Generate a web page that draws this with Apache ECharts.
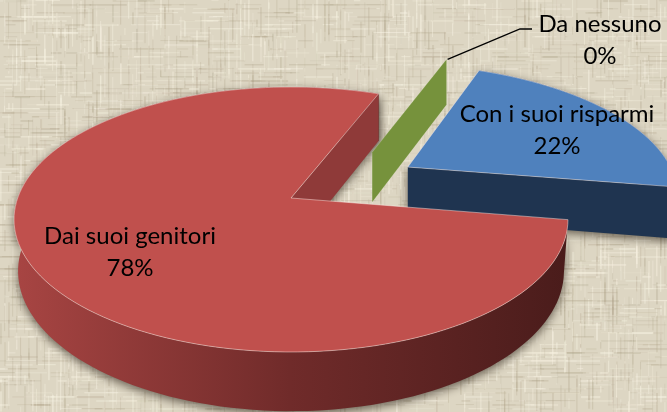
<!DOCTYPE html>
<html><head><meta charset="utf-8">
<style>html,body{margin:0;padding:0;background:#ddd6c3}#c{width:667px;height:412px}</style>
<script src="https://cdn.jsdelivr.net/npm/echarts@6/dist/echarts.min.js"></script>
</head><body><div id="c"></div>
<script>
// ---- chart data ----
const categories = ['Con i suoi risparmi', 'Dai suoi genitori', 'Da nessuno'];
const values = [21.5, 78.4, 0.1];
const percentLabels = ['22%', '78%', '0%'];

// ---- styling / projection ----
const topColors  = ['#4f81bd', '#c0504d', '#76923c'];
const cutColors  = ['#1f3450', '#8f3a39', '#76923c'];
const START = -68;
const explodeDist = [0.51, 0, 0.49];
const explodeDirs = [null, null, -50];   // null: along the slice bisector
const labelPos = [[557,130],[130,252],[600,40]];
const OX = 291, TY = 198, BY = 250, RX = 273.3, ST = 129, SB = 135, K = 0.1623;

function project(u, v, bottom) {
  const w = 1 - K * v;
  const rx = bottom ? RX * (1 - 0.01 * (v + 1.3)) : RX;
  return [OX + rx * u / w, (bottom ? BY : TY) + (bottom ? SB : ST) * v / w];
}
const total = values.reduce((a, b) => a + b, 0);
function sliceGeom(i) {
  // slices run clockwise on screen from START; the last ends back at START
  let a0 = START;
  for (let j = 0; j < i; j++) a0 += values[j] / total * 360;
  const a1 = a0 + values[i] / total * 360;
  const mid = (a0 + a1) / 2;
  const d = (explodeDirs[i] === null ? mid : explodeDirs[i]) * Math.PI / 180;
  return { a0, a1, du: explodeDist[i] * Math.cos(d), dv: explodeDist[i] * Math.sin(d) };
}
function rim(g, from, to, bottom) {
  const pts = [], n = Math.max(4, Math.ceil(Math.abs(to - from) / 2));
  for (let t = 0; t <= n; t++) {
    const a = (from + (to - from) * t / n) * Math.PI / 180;
    pts.push(project(g.du + Math.cos(a), g.dv + Math.sin(a), bottom));
  }
  return pts;
}
const wallGrad = [
  '#1f3450',
  { type:'linear', global:true, x:13, y:0, x2:567, y2:0, colorStops:[{offset:0,color:'#a84543'},{offset:0.5,color:'#702b2a'},{offset:1,color:'#4a1c1b'}] },
  '#76923c'
];
const shadow = { shadowBlur: 10, shadowColor: 'rgba(40,30,20,0.65)', shadowOffsetX: 0, shadowOffsetY: 3 };

function renderItem(params, api) {
  const i = params.dataIndex;
  api.value(0);
  const g = sliceGeom(i);
  const at = project(g.du, g.dv, false), ab = project(g.du, g.dv, true);
  ab[0] = at[0];
  const kids = [];
  if (i === 2) {
    // near-zero slice: only its cut wall shows
    const c = Math.cos(g.a1*Math.PI/180), s = Math.sin(g.a1*Math.PI/180);
    const t = project(g.du + c, g.dv + s, false), b = project(g.du + c, g.dv + s, true);
    b[0] = t[0];
    kids.push({ type:'polygon', shape:{points:[at,t,b,ab]}, style:{fill:topColors[2], stroke:'rgba(255,255,255,0.25)', lineWidth:0.6} });
    kids.push({ type:'polyline', shape:{points:[[t[0]+1,t[1]],[520,29],[532,29]]}, style:{stroke:'#000', lineWidth:1.3, fill:null} });
  } else {
    const topRim = rim(g, g.a0, g.a1, false), botRim = rim(g, g.a0, g.a1, true);
    kids.push({ type:'polygon', shape:{points: topRim.concat(botRim.slice().reverse())}, style:Object.assign({fill:wallGrad[i]}, shadow) });
    const rt = topRim[topRim.length-1], rb = botRim[botRim.length-1];
    if (i === 1) rb[0] = rt[0];
    kids.push({ type:'polygon', shape:{points:[at,rt,rb,ab]}, style:Object.assign({fill:cutColors[i]}, shadow) });
    kids.push({ type:'polygon', shape:{points:[at].concat(topRim)}, style:{fill:topColors[i], stroke:'rgba(255,240,235,0.45)', lineWidth:1} });
  }
  return { type:'group', children:kids };
}
function renderLabels(params) {
  const i = params.dataIndex;
  return { type:'text', style:{ text: categories[i] + '\n' + percentLabels[i], x:labelPos[i][0], y:labelPos[i][1],
    fill:'#000', font:'24px Lato, "Open Sans", sans-serif', lineHeight:32, align:'center', verticalAlign:'middle' } };
}

// woven linen background, deterministic
function linen() {
  const W = 667, H = 412, c = document.createElement('canvas'); c.width = W; c.height = H;
  const x = c.getContext('2d');
  const h = (n) => { const s = Math.sin(n * 12.9898) * 43758.5453; return s - Math.floor(s); };
  x.fillStyle = '#ddd6c3'; x.fillRect(0, 0, W, H);
  try { x.filter = 'blur(0.7px)'; } catch (e) {}
  for (let n = 0; n < 5200; n++) {
    const vert = n % 2 === 0, p = Math.round(h(n + 1) * (vert ? W : H) / 4) * 4, q = h(n + 2.5) * (vert ? H : W);
    const len = 6 + h(n + 4.2) * 32, light = h(n + 7.7) > 0.5;
    x.fillStyle = light ? 'rgba(247,242,226,' + (0.12 + h(n+9.1) * 0.35) + ')' : 'rgba(172,160,134,' + (0.08 + h(n+9.1) * 0.2) + ')';
    const t = 1 + h(n + 11.3) * 1.2;
    if (vert) x.fillRect(p, q - len / 2, t, len); else x.fillRect(q - len / 2, p, len, t);
  }
  return c;
}

const chart = echarts.init(document.getElementById('c'), null, { renderer:'canvas' });
chart.setOption({
  animation:false,
  backgroundColor:{ image: linen(), repeat:'repeat' },
  series:[
    { type:'custom', coordinateSystem:'none', renderItem, silent:true,
      data:[[values[0]],[values[1]],[values[2]]], z:1 },
    { type:'custom', coordinateSystem:'none', renderItem:renderLabels, silent:true,
      data:categories.map((c,i)=>({name:c,value:[values[i]]})), z:2 }
  ]
});
</script></body></html>
